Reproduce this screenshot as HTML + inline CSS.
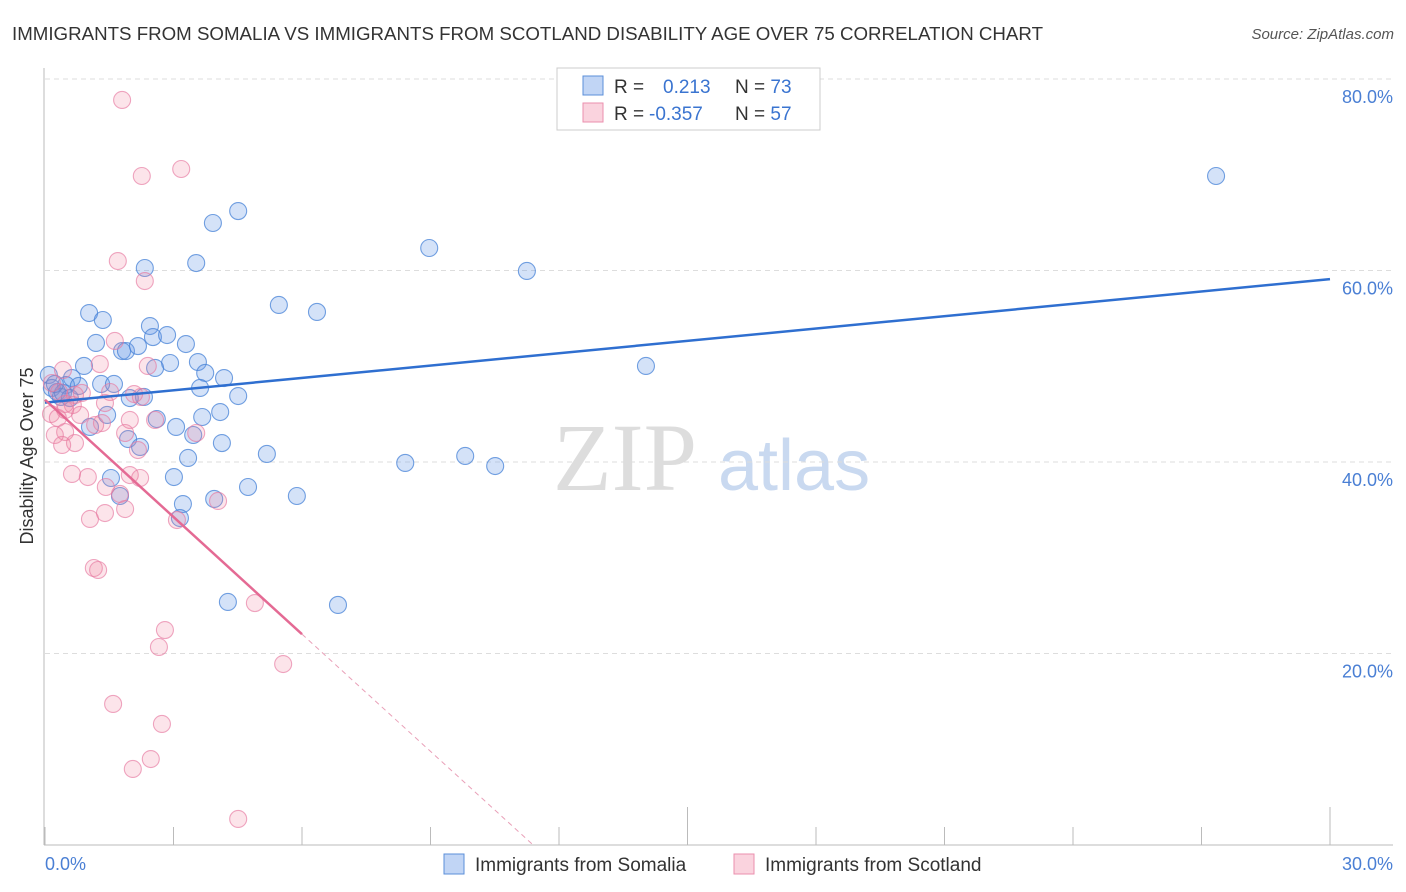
<!DOCTYPE html>
<html><head><meta charset="utf-8">
<style>
body{margin:0;background:#fff;font-family:"Liberation Sans",sans-serif;}
svg{display:block}
</style></head>
<body>
<svg id="chart" width="1406" height="892" xmlns="http://www.w3.org/2000/svg">
<text x="12" y="40" font-size="18" fill="#333" textLength="1031" lengthAdjust="spacingAndGlyphs">IMMIGRANTS FROM SOMALIA VS IMMIGRANTS FROM SCOTLAND DISABILITY AGE OVER 75 CORRELATION CHART</text>
<text x="1394" y="39" font-size="15" fill="#555" font-style="italic" text-anchor="end">Source: ZipAtlas.com</text>
<text x="553" y="490" font-size="96" fill="#ddd" font-family="Liberation Serif,serif">ZIP</text>
<text x="718" y="490" font-size="72" fill="#c9d9f0">atlas</text>
<text transform="translate(33,456) rotate(-90)" font-size="18" fill="#333" text-anchor="middle">Disability Age Over 75</text>
<g id="grid"></g>
<g id="points"></g>
<g id="trends"></g>
<g>
<rect x="557" y="68" width="263" height="62" fill="#fff" stroke="#ccc"/>
<rect x="583" y="76" width="20" height="19" fill="rgba(100,150,230,0.4)" stroke="#5b8fd9"/>
<rect x="583" y="103" width="20" height="19" fill="rgba(240,130,160,0.35)" stroke="#eb8fae"/>
<text x="614" y="93" font-size="19" fill="#333">R = <tspan fill="#3a74d0" x="663">0.213</tspan><tspan fill="#333" x="735">N = </tspan><tspan fill="#3a74d0">73</tspan></text>
<text x="614" y="120" font-size="19" fill="#333">R = <tspan fill="#3a74d0" x="649">-0.357</tspan><tspan fill="#333" x="735">N = </tspan><tspan fill="#3a74d0">57</tspan></text>
</g>
<g>
<rect x="444" y="854" width="20" height="20" fill="rgba(100,150,230,0.4)" stroke="#5b8fd9"/>
<text x="475" y="871" font-size="19" fill="#333">Immigrants from Somalia</text>
<rect x="734" y="854" width="20" height="20" fill="rgba(240,130,160,0.35)" stroke="#eb8fae"/>
<text x="765" y="871" font-size="19" fill="#333">Immigrants from Scotland</text>
</g>
</svg>
<script>
const yTicks=[20,40,60,80];
const xTickLabels=["0.0%","30.0%"];
const somaliaX=[27.34,4.51,3.92,8.97,3.53,2.33,11.25,5.46,6.35,1.03,1.35,2.45,2.52,2.85,1.19,3.29,1.80,1.89,2.17,3.57,0.91,2.92,2.57,14.03,3.74,4.18,0.63,0.09,0.49,1.31,1.61,0.79,0.16,0.28,3.62,4.51,2.31,1.98,0.37,1.45,4.09,3.67,2.61,3.06,1.05,3.46,1.94,2.22,4.13,3.34,5.18,8.41,9.81,10.51,3.01,1.54,4.74,1.75,3.95,5.88,3.22,3.15,4.27,6.84,0.42,0.58,0.23];
const somaliaY=[69.87,66.21,64.96,62.35,60.78,60.26,59.95,56.40,55.67,55.56,54.83,54.20,53.05,53.26,52.43,52.32,51.59,51.59,52.11,50.44,50.03,50.34,49.82,50.03,49.30,48.77,48.77,49.09,48.04,48.15,48.15,47.94,47.73,47.31,47.73,46.89,46.79,46.68,46.79,44.91,45.22,44.70,44.49,43.66,43.66,42.82,42.40,41.57,41.98,40.42,40.84,39.90,40.63,39.58,38.43,38.33,37.39,36.45,36.14,36.45,35.61,34.15,25.38,25.07,47.21,46.68,48.15];
const scotlandX=[1.80,3.18,2.26,1.70,2.33,1.63,0.42,1.28,2.40,0.16,0.33,0.70,0.86,2.08,2.24,1.40,0.65,0.47,0.14,0.30,1.98,2.57,1.33,1.17,0.47,0.23,1.87,3.53,0.70,0.40,2.17,0.63,1.00,1.42,1.98,2.22,4.04,1.75,1.87,1.40,1.05,3.08,1.14,1.24,2.80,2.66,4.90,5.56,1.59,2.73,2.47,2.05,4.51,0.47,0.82,1.52];
const scotlandY=[77.81,70.60,69.87,60.99,58.90,52.64,49.61,50.23,50.03,48.25,47.31,47.00,47.21,47.10,46.79,46.16,45.95,45.43,45.01,44.60,44.39,44.39,44.07,43.86,43.13,42.82,43.03,43.03,41.98,41.78,41.25,38.75,38.43,37.39,38.64,38.33,35.93,36.66,35.09,34.67,34.05,33.94,28.93,28.72,22.45,20.68,25.27,18.90,14.73,12.64,8.98,7.94,2.72,46.06,44.91,47.31];
const somaliaTrend=[46.2,59.1];
const scotlandTrend=[46.5,-4.08];

const NS="http://www.w3.org/2000/svg";
const X=v=>45+v*(1285/30);
const Y=v=>845-v*9.575;
function mk(tag,attrs,parent){const e=document.createElementNS(NS,tag);for(const k in attrs)e.setAttribute(k,attrs[k]);parent.appendChild(e);return e;}
const grid=document.getElementById('grid');
yTicks.forEach(t=>{
  const l=mk('line',{x1:45,x2:1393,y1:Y(t),y2:Y(t),stroke:'#ddd','stroke-dasharray':'5,4'},grid);
  
  
  const tx=mk('text',{x:1393,y:Y(t)+24,'font-size':18,fill:'#4a7fd4','text-anchor':'end'},grid);
  tx.textContent=t.toFixed(1)+'%';
  
  
});
const ax=mk('line',{x1:44,x2:44,y1:68,y2:845,stroke:'#bbb'},grid);


const bx=mk('line',{x1:44,x2:1393,y1:845,y2:845,stroke:'#bbb'},grid);


for(let i=0;i<=10;i++){
  const v=i*3;
  const tk=mk('line',{x1:X(v),x2:X(v),y1:(i==5||i==10)?807:827,y2:845,stroke:'#bbb'},grid);
  
  
}
[[0,'start',45],[30,'end',1393]].forEach((d,i)=>{
  const t=mk('text',{x:d[2],y:870,'font-size':18,fill:'#4a7fd4','text-anchor':d[1]},grid);
  t.textContent=xTickLabels[i];
  
  
});
const pts=document.getElementById('points');
somaliaX.forEach((x,i)=>{
  const c=mk('circle',{cx:X(x),cy:Y(somaliaY[i]),r:8.5,fill:'rgba(100,150,230,0.28)',stroke:'rgba(70,130,215,0.75)','stroke-width':1.1},pts);
  
  
});
scotlandX.forEach((x,i)=>{
  const c=mk('circle',{cx:X(x),cy:Y(scotlandY[i]),r:8.5,fill:'rgba(240,130,160,0.22)',stroke:'rgba(230,120,160,0.65)','stroke-width':1.1},pts);
  
  
});
const tr=document.getElementById('trends');
const bl=mk('line',{x1:X(0),y1:Y(somaliaTrend[0]),x2:X(30),y2:Y(somaliaTrend[1]),stroke:'#2f6fd0','stroke-width':2.5},tr);


const xEnd=-scotlandTrend[0]/scotlandTrend[1];
const pl=mk('line',{x1:X(0),y1:Y(scotlandTrend[0]),x2:X(6),y2:Y(scotlandTrend[0]+6*scotlandTrend[1]),stroke:'#e46a94','stroke-width':2.5},tr);


const pd=mk('line',{x1:X(6),y1:Y(scotlandTrend[0]+6*scotlandTrend[1]),x2:X(xEnd),y2:Y(0),stroke:'#e9a0b8','stroke-width':1,'stroke-dasharray':'5,4'},tr);


</script>
</body></html>
